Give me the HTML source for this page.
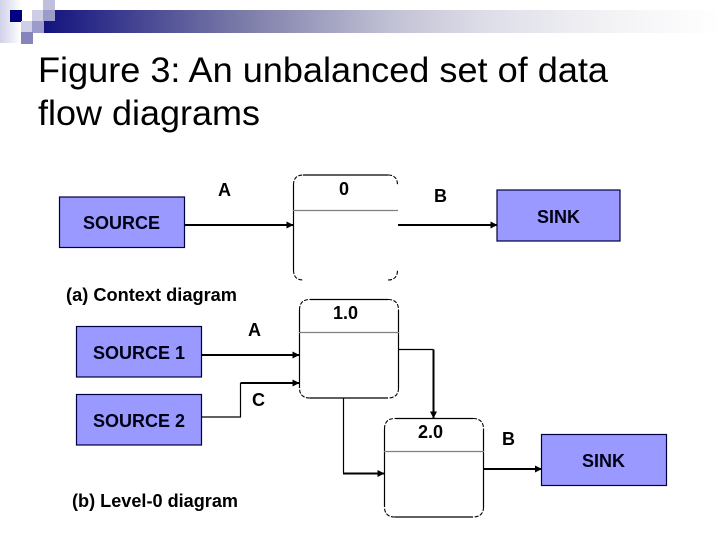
<!DOCTYPE html>
<html>
<head>
<meta charset="utf-8">
<style>
html,body{margin:0;padding:0;background:#fff;width:720px;height:540px;overflow:hidden}
svg{display:block}
text{font-family:"Liberation Sans",Arial,sans-serif}
.b{font-weight:bold;font-size:18px;fill:#000}
.l{font-weight:bold;font-size:18px;fill:#000015}
.bx{fill:#9999ff;stroke:#000040;stroke-width:1.2}
.dv{stroke:#808080;stroke-width:1.2}
.c{fill:none;stroke:#000;stroke-width:2}
.t{fill:none;stroke:#000;stroke-width:1.2}
.d{fill:none;stroke:#000;stroke-width:1.1;stroke-dasharray:4 1.500}
</style>
</head>
<body>
<svg width="720" height="540" viewBox="0 0 720 540" xmlns="http://www.w3.org/2000/svg">
<defs>
<linearGradient id="g" x1="0" x2="1" y1="0" y2="0">
<stop offset="0" stop-color="#13137f"/>
<stop offset="0.29" stop-color="#7a7aa8"/>
<stop offset="0.51" stop-color="#c0c0d4"/>
<stop offset="0.65" stop-color="#ddddE8"/>
<stop offset="0.83" stop-color="#f2f2f5"/>
<stop offset="1" stop-color="#ffffff"/>
</linearGradient>
<linearGradient id="lg" x1="0" x2="1" y1="0" y2="0">
<stop offset="0" stop-color="#d0d0ea"/>
<stop offset="1" stop-color="#ffffff"/>
</linearGradient>
<marker id="a" markerWidth="8" markerHeight="8" refX="6.500" refY="3.500" orient="auto" markerUnits="userSpaceOnUse">
<path d="M0,0 L7,3.500 L0,7 Z" fill="#000"/>
</marker>
</defs>

<rect x="44" y="10" width="676" height="23" fill="url(#g)"/>
<rect x="0" y="0" width="21" height="43" fill="url(#lg)"/>
<rect x="10" y="10" width="12" height="12" fill="#000080"/>
<rect x="22" y="10" width="10" height="11" fill="#ffffff"/>
<rect x="32" y="10" width="12" height="11" fill="#cdcde6"/>
<rect x="43" y="0" width="12" height="10" fill="#c0c0de"/>
<rect x="43" y="10" width="12" height="11" fill="#9c9cca"/>
<rect x="21" y="21" width="11" height="11" fill="#cfcfe8"/>
<rect x="32" y="21" width="12" height="12" fill="#9c9ccc"/>
<rect x="21" y="32" width="12" height="12" fill="#8585bb"/>

<text x="38" y="82" font-size="35.2" fill="#000" textLength="570" lengthAdjust="spacingAndGlyphs">Figure 3: An unbalanced set of data</text>
<text x="38" y="125" font-size="35.2" fill="#000" textLength="222" lengthAdjust="spacingAndGlyphs">flow diagrams</text>

<!-- (a) context -->
<rect class="bx" x="59.500" y="197" width="125" height="50.500"/>
<rect class="bx" x="497" y="190" width="123" height="51"/>
<text class="l" x="83" y="229" textLength="77" lengthAdjust="spacingAndGlyphs">SOURCE</text>
<text class="l" x="537" y="223" textLength="43" lengthAdjust="spacingAndGlyphs">SINK</text>
<text class="b" x="218" y="196">A</text>
<text class="b" x="434" y="202">B</text>
<text class="b" x="339" y="195">0</text>

<path class="t" d="M303,175 H388"/>
<path class="t" d="M293.500,185 V270"/>
<path class="d" d="M293.500,185 Q293.500,175 303,175"/>
<path class="d" d="M388,175 Q397.500,175 397.500,185"/>
<path class="d" d="M293.500,270 Q293.500,280 303,280"/>
<path class="d" d="M388,280 Q397.500,280 397.500,270"/>
<line class="dv" x1="293" y1="210.500" x2="398" y2="210.500"/>

<path class="c" d="M185,225 H293" marker-end="url(#a)"/>
<path class="c" d="M398,225 H497" marker-end="url(#a)"/>

<text class="b" x="66" y="301" textLength="171" lengthAdjust="spacingAndGlyphs">(a) Context diagram</text>

<!-- (b) level-0 -->
<rect class="bx" x="76.500" y="326.500" width="125" height="50.500"/>
<rect class="bx" x="76.500" y="394.500" width="125" height="50.500"/>
<text class="l" x="93" y="359" textLength="92" lengthAdjust="spacingAndGlyphs">SOURCE 1</text>
<text class="l" x="93" y="427" textLength="92" lengthAdjust="spacingAndGlyphs">SOURCE 2</text>
<text class="b" x="72" y="507" textLength="166" lengthAdjust="spacingAndGlyphs">(b) Level-0 diagram</text>
<text class="b" x="248" y="336">A</text>
<text class="b" x="252" y="406">C</text>

<!-- box 1.0 -->
<path class="t" d="M310,299.500 H388 M398.500,310 V388 M388,398 H310 M299.500,388 V310"/>
<path class="d" d="M299.500,310 Q299.500,299.500 310,299.500 M388,299.500 Q398.500,299.500 398.500,310 M398.500,388 Q398.500,398 388,398 M310,398 Q299.500,398 299.500,388"/>
<line class="dv" x1="299" y1="332.500" x2="399" y2="332.500"/>
<text class="b" x="333" y="319">1.0</text>

<!-- box 2.0 -->
<path class="t" d="M395,418.500 H473 M483.500,429 V507 M473,517 H395 M384.500,507 V429"/>
<path class="d" d="M384.500,429 Q384.500,418.500 395,418.500 M473,418.500 Q483.500,418.500 483.500,429 M483.500,507 Q483.500,517 473,517 M395,517 Q384.500,517 384.500,507"/>
<line class="dv" x1="384" y1="451.500" x2="484" y2="451.500"/>
<text class="b" x="418" y="438">2.0</text>

<path class="c" d="M202,355 H299" marker-end="url(#a)"/>
<path class="t" d="M202,417 H240.500 V383"/>
<path class="c" d="M240.500,383 H299" marker-end="url(#a)"/>
<path class="t" d="M399,349.500 H433.500"/>
<path class="c" d="M433.500,349.500 V418" marker-end="url(#a)"/>
<path class="t" d="M343.500,398 V473"/>
<path class="c" d="M343,473.500 H384" marker-end="url(#a)"/>
<path class="c" d="M484,469 H541.500" marker-end="url(#a)"/>

<rect class="bx" x="541.500" y="434.500" width="125" height="51"/>
<text class="l" x="582" y="467" textLength="43" lengthAdjust="spacingAndGlyphs">SINK</text>
<text class="b" x="502" y="445">B</text>
</svg>
</body>
</html>
